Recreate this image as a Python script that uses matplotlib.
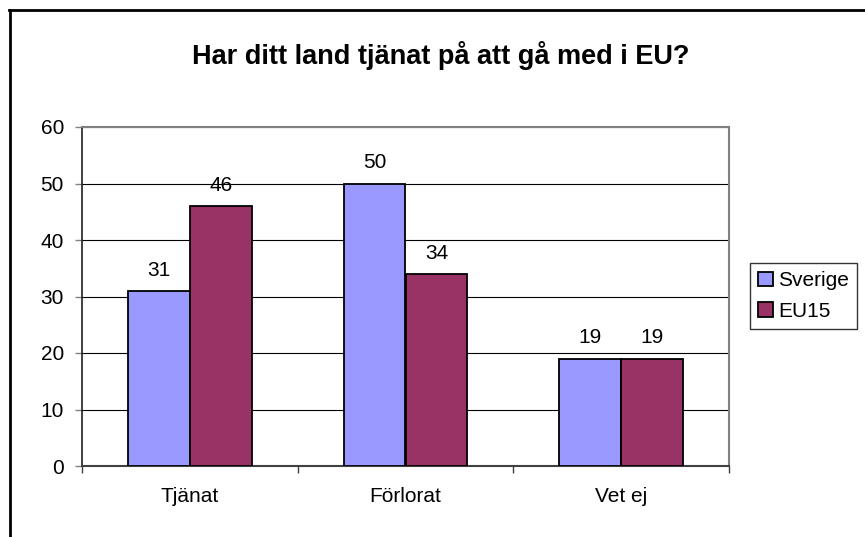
import matplotlib.pyplot as plt
from matplotlib.lines import Line2D
import numpy as np

plt.rcParams['font.family'] = ['Liberation Sans', 'DejaVu Sans']

# Data
categories = ['Tjänat', 'Förlorat', 'Vet ej']
sverige = [31, 50, 19]
eu15 = [46, 34, 19]
series_names = ['Sverige', 'EU15']
colors = ['#9999FF', '#993366']
yticks = [0, 10, 20, 30, 40, 50, 60]

fig = plt.figure(figsize=(8.65, 5.37), dpi=100)
ax = fig.add_axes([82 / 865, 1 - 466 / 537, 647 / 865, 339 / 537])

x = np.arange(len(categories))
w = 0.287
b1 = ax.bar(x - w, sverige, w, align='edge', color=colors[0],
            edgecolor='black', linewidth=1.3, label=series_names[0], zorder=3)
b2 = ax.bar(x, eu15, w, align='edge', color=colors[1],
            edgecolor='black', linewidth=1.3, label=series_names[1], zorder=3)

for bars, vals in [(b1, sverige), (b2, eu15)]:
    for rect, v in zip(bars, vals):
        ax.annotate(str(v), (rect.get_x() + rect.get_width() / 2, v),
                    xytext=(0, 11), textcoords='offset points',
                    ha='center', va='baseline', fontsize=15)

ax.set_xlim(-0.5, 2.5)
ax.set_ylim(0, 60)
ax.set_yticks(yticks)
ax.yaxis.grid(True, color='black', linewidth=0.8, zorder=0)
ax.set_axisbelow(True)

ax.set_xticks(x)
ax.set_xticklabels(categories, fontsize=15)
ax.tick_params(axis='x', length=0, pad=15)
ax.set_xticks([-0.5, 0.5, 1.5, 2.5], minor=True)
ax.tick_params(axis='x', which='minor', length=5, color='#404040', width=1)
ax.tick_params(axis='y', labelsize=15, length=5, color='#808080', width=1, pad=8)

for side in ['top', 'right']:
    ax.spines[side].set_color('#808080')
    ax.spines[side].set_linewidth(1.5)
ax.spines['left'].set_color('#202020')
ax.spines['left'].set_linewidth(1.2)
ax.spines['bottom'].set_color('#404040')
ax.spines['bottom'].set_linewidth(1.5)

fig.text(441 / 865, 1 - 56 / 537, 'Har ditt land tjänat på att gå med i EU?',
         ha='center', va='center', fontsize=19.5, fontweight='bold')

leg = fig.legend(loc='upper left', bbox_to_anchor=(750 / 865, 1 - 263 / 537),
                 fontsize=15, frameon=True, fancybox=False, borderaxespad=0,
                 handlelength=0.7, handleheight=0.7, handletextpad=0.25,
                 borderpad=0.4, labelspacing=0.55)
leg.get_frame().set_edgecolor('black')
leg.get_frame().set_linewidth(1)

# outer chart border (left and top edges visible)
fig.add_artist(Line2D([10 / 865, 10 / 865], [0, 1 - 10 / 537], color='black',
                      linewidth=2, transform=fig.transFigure))
fig.add_artist(Line2D([9 / 865, 1], [1 - 10 / 537, 1 - 10 / 537], color='black',
                      linewidth=2, transform=fig.transFigure))

fig.savefig('out.png', dpi=100, facecolor='white')
